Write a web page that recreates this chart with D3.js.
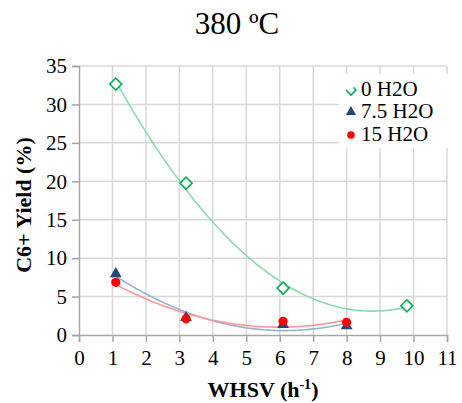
<!DOCTYPE html>
<html><head><meta charset="utf-8">
<script src="https://cdn.jsdelivr.net/npm/d3@7"></script>
<style>body{margin:0;background:#fff}svg{display:block}
svg text, svg tspan{font-family:"Liberation Serif","Times New Roman",Times,serif !important}</style>
</head><body>
<svg id="c" width="462" height="403"></svg>
<script>
const title = "380 ºC";
const xTicks = [0,1,2,3,4,5,6,7,8,9,10,11];
const yTicks = [0,5,10,15,20,25,30,35];
const seriesNames = ["0 H2O","7.5 H2O","15 H2O"];
const x0 = [1.1,3.2,6.1,9.8];
const y0 = [32.65,19.75,6.1,3.8];
const x75 = [1.1,3.2,6.1,8.0];
const y75 = [7.95,2.25,1.35,1.2];
const x15 = [1.1,3.2,6.1,8.0];
const y15 = [6.85,2.1,1.78,1.65];

const FONT = "Liberation Serif";
const svg = d3.select("#c");
const x = d3.scaleLinear().domain([0,11]).range([79,447]);
const y = d3.scaleLinear().domain([0,35]).range([335,66]);

svg.append("g").selectAll("line").data(xTicks.filter(d=>d>0)).join("line")
  .attr("x1",d=>x(d)).attr("x2",d=>x(d)).attr("y1",y(0)).attr("y2",y(35))
  .attr("stroke","#d9d9d9").attr("stroke-width",1.5);
svg.append("g").selectAll("line").data(yTicks.filter(d=>d>0)).join("line")
  .attr("x1",x(0)).attr("x2",x(11)).attr("y1",d=>y(d)).attr("y2",d=>y(d))
  .attr("stroke","#d9d9d9").attr("stroke-width",1.5);

const ax = svg.append("g").attr("transform",`translate(0,${y(0)})`)
  .call(d3.axisBottom(x).tickValues(xTicks).tickSize(7).tickPadding(8));
const ay = svg.append("g").attr("transform",`translate(${x(0)},0)`)
  .call(d3.axisLeft(y).tickValues(yTicks).tickSize(7).tickPadding(5));
[ax,ay].forEach(g=>{
  g.attr("font-family",FONT).attr("font-size",21);
  g.select(".domain").attr("stroke","#a6a6a6").attr("stroke-width",1.5);
  g.selectAll(".tick line").attr("stroke","#a6a6a6").attr("stroke-width",1.5);
  g.selectAll("text").attr("font-family",FONT).attr("font-size",21).attr("fill","#000");
});

function quadFit(xs,ys){
  let n=xs.length,S=[0,0,0,0,0],T=[0,0,0];
  for(let i=0;i<n;i++){let p=1;for(let k=0;k<5;k++){S[k]+=p;if(k<3)T[k]+=p*ys[i];p*=xs[i];}}
  const A=[[S[0],S[1],S[2],T[0]],[S[1],S[2],S[3],T[1]],[S[2],S[3],S[4],T[2]]];
  for(let i=0;i<3;i++){for(let j=i+1;j<3;j++){const f=A[j][i]/A[i][i];for(let k=i;k<4;k++)A[j][k]-=f*A[i][k];}}
  const c=[0,0,0];
  for(let i=2;i>=0;i--){let s=A[i][3];for(let k=i+1;k<3;k++)s-=A[i][k]*c[k];c[i]=s/A[i][i];}
  return v=>c[0]+c[1]*v+c[2]*v*v;
}
const series = [
  {xs:x0,ys:y0,trend:"#8fd9ad",col:"#00b050",shape:"diamond"},
  {xs:x75,ys:y75,trend:"#9cb1cf",col:"#1f497d",shape:"tri"},
  {xs:x15,ys:y15,trend:"#ff9999",col:"#ff0000",shape:"circle"}
];
const lineGen = d3.line().x(d=>x(d[0])).y(d=>y(d[1]));
series.forEach(s=>{
  const f=quadFit(s.xs,s.ys);
  const lo=d3.min(s.xs),hi=d3.max(s.xs);
  const pts=d3.range(0,101).map(i=>{const v=lo+(hi-lo)*i/100;return [v,f(v)];});
  svg.append("path").attr("d",lineGen(pts)).attr("fill","none").attr("stroke",s.trend).attr("stroke-width",1.6);
});
function drawMarker(g,shape,col,cx,cy){
  if(shape==="diamond"){
    g.append("path").attr("d",d3.symbol(d3.symbolSquare,72)()).attr("transform",`translate(${cx},${cy}) rotate(45)`)
      .attr("fill","#fff").attr("stroke",col).attr("stroke-width",1.6);
  } else if(shape==="tri"){
    g.append("path").attr("d",d3.symbol(d3.symbolTriangle,60)()).attr("transform",`translate(${cx},${cy})`).attr("fill",col);
  } else {
    g.append("circle").attr("cx",cx).attr("cy",cy).attr("r",4.6).attr("fill",col);
  }
}
const mg = svg.append("g");
series.forEach(s=>{
  s.xs.forEach((v,i)=>drawMarker(mg,s.shape,s.col,x(v),y(s.ys[i])));
});

const lg = svg.append("g");
lg.append("rect").attr("x",339).attr("y",74).attr("width",118).attr("height",74).attr("fill","#fff");
const rowsY=[96,118,141];
seriesNames.forEach((n,i)=>{
  const s=series[i];
  const cy=rowsY[i]-6;
  if(s.shape==="diamond"){
    lg.append("path").attr("d",`M346,${cy} L351,${cy+5} L356,${cy} L353.5,${cy-2.5}`).attr("fill","none").attr("stroke",s.col).attr("stroke-width",1.6);
  } else if(s.shape==="tri"){
    lg.append("path").attr("d",d3.symbol(d3.symbolTriangle,45)()).attr("transform",`translate(351,${cy})`).attr("fill",s.col);
  } else {
    lg.append("circle").attr("cx",351).attr("cy",cy).attr("r",3.8).attr("fill",s.col);
  }
  lg.append("text").attr("x",361).attr("y",rowsY[i]).attr("font-family",FONT).attr("font-size",21).text(n);
});

svg.append("text").attr("x",237).attr("y",34).attr("text-anchor","middle").attr("font-family",FONT).attr("font-size",31).text(title);
const xt = svg.append("text").attr("x",263).attr("y",397).attr("text-anchor","middle").attr("font-family",FONT).attr("font-size",22).attr("font-weight","bold");
xt.append("tspan").text("WHSV (h");
xt.append("tspan").attr("font-size",14).attr("dy",-8).text("-1");
xt.append("tspan").attr("dy",8).text(")");
svg.append("text").attr("transform","translate(31,205) rotate(-90)").attr("text-anchor","middle").attr("font-family",FONT)
  .attr("font-size",22).attr("font-weight","bold").text("C6+ Yield (%)");
</script>
</body></html>
